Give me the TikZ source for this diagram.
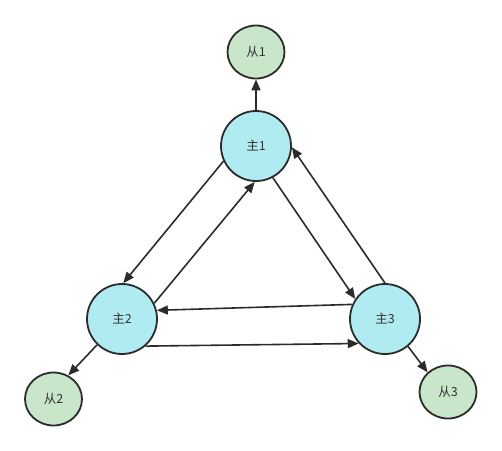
\documentclass[tikz,border=0pt]{standalone}
\usepackage{fontspec}
\newfontfamily\cjk{Noto Sans CJK SC}
\usetikzlibrary{arrows.meta,shapes.geometric}
\definecolor{masterfill}{HTML}{B1EBF2}
\definecolor{slavefill}{HTML}{C9E6CA}
\definecolor{strokec}{HTML}{2B2B2B}
\definecolor{textc}{HTML}{333333}
\tikzset{
  master/.style={circle,draw=strokec,line width=1.8pt,fill=masterfill,minimum size=70pt,inner sep=0pt,font=\cjk\fontsize{12.5}{14}\selectfont,text=textc},
  slave/.style={ellipse,draw=strokec,line width=1.8pt,fill=slavefill,minimum width=57pt,minimum height=53pt,inner sep=0pt,font=\cjk\fontsize{12.5}{14}\selectfont,text=textc},
  link/.style={draw=strokec,line width=1.6pt,-{Triangle[length=11pt,width=9pt]}}
}
\begin{document}
\begin{tikzpicture}[x=1pt,y=-1pt]
\useasboundingbox (0,0) rectangle (502,450);
\node[slave] (s1) at (256,52) {从1};
\node[master] (m1) at (256,146) {主1};
\node[master] (m2) at (122,319) {主2};
\node[master] (m3) at (385,319) {主3};
\node[slave] (s2) at (53.5,399) {从2};
\node[slave] (s3) at (448,392) {从3};
\draw[link] (m1.90) -- (s1.270);
\draw[link] (m1.205) -- (m2.88);
\draw[link] (m2.26) -- (m1.268);
\draw[link] (m1.298) -- (m3.146);
\draw[link] (m3.90) -- (m1.358);
\draw[link] (m3.156) -- (m2.14);
\draw[link] (m2.311) -- (m3.223);
\draw[link] (m2.226) -- (s2.58);
\draw[link] (m3.310) -- (s3.136);
\end{tikzpicture}
\end{document}
